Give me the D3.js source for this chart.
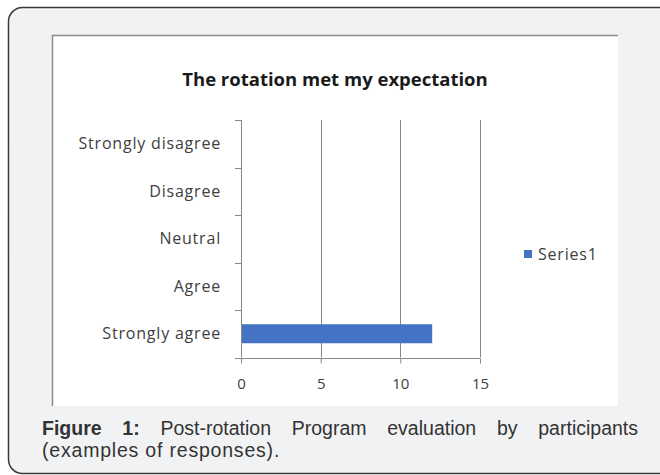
<!DOCTYPE html>
<html>
<head>
<meta charset="utf-8">
<script src="https://cdn.jsdelivr.net/npm/d3@7"></script>
<style>
  body { margin: 0; background: #fff; }
  #wrap { position: relative; width: 660px; height: 475px; overflow: hidden; background: #fff; }
  #caption {
    position: absolute; left: 42px; top: 417px; width: 596px;
    font-family: "Liberation Sans", Arial, sans-serif; font-size: 19.5px; line-height: 22px;
    letter-spacing: 0.8px; color: #333;
  }
  #caption .l1 { display: block; text-align: justify; text-align-last: justify; letter-spacing: 0; }
</style>
</head>
<body>
<div id="wrap">
  <svg width="660" height="475"></svg>
  <div id="caption"><span class="l1"><b>Figure 1:</b> Post-rotation Program evaluation by participants</span>(examples of responses).</div>
</div>
<script>
var svg = d3.select("svg"),
    width = +svg.attr("width"),
    height = +svg.attr("height");

var categories = ['Strongly disagree', 'Disagree', 'Neutral', 'Agree', 'Strongly agree'];
var values = [0, 0, 0, 0, 12];
var xTicks = [0, 5, 10, 15];
var seriesName = 'Series1';
var chartTitle = 'The rotation met my expectation';

var labelFont = '"Open Sans", Lato, sans-serif';

// outer rounded frame (right side runs off the page)
svg.append("rect")
    .attr("x", 8.5).attr("y", 7.5)
    .attr("width", 700).attr("height", 466)
    .attr("rx", 14)
    .attr("fill", "#f1f2f4")
    .attr("stroke", "#3a3a3a")
    .attr("stroke-width", 1.5);

// white chart panel
svg.append("rect")
    .attr("x", 52).attr("y", 35)
    .attr("width", 566).attr("height", 371)
    .attr("fill", "#fff");
svg.append("path")
    .attr("d", "M52.5,406V35.5H618")
    .attr("fill", "none")
    .attr("stroke", "#8c8c8c")
    .attr("stroke-width", 1.5);

svg.append("text")
    .attr("x", 335).attr("y", 86)
    .attr("text-anchor", "middle")
    .attr("font-family", labelFont)
    .attr("font-weight", "bold")
    .attr("font-size", 18.5)
    .attr("letter-spacing", 0)
    .attr("fill", "#1a1a1a")
    .text(chartTitle);

var plot = { left: 241, right: 480, top: 120, bottom: 357.5 };

var x = d3.scaleLinear().domain([0, 15]).range([plot.left, plot.right]);
var y = d3.scaleBand().domain(categories).range([plot.top, plot.bottom]).paddingInner(0.6).paddingOuter(0.3);

var axisColor = "#868686";

// gridlines
svg.append("g")
  .selectAll("line")
  .data(xTicks.filter(d => d > 0))
  .enter().append("line")
    .attr("x1", d => Math.round(x(d)) + 0.5)
    .attr("x2", d => Math.round(x(d)) + 0.5)
    .attr("y1", plot.top)
    .attr("y2", plot.bottom)
    .attr("stroke", axisColor);

// bars
svg.append("g")
  .selectAll("rect")
  .data(categories)
  .enter().append("rect")
    .attr("x", x(0))
    .attr("y", (d) => y(d))
    .attr("width", (d, i) => x(values[i]) - x(0))
    .attr("height", y.bandwidth())
    .attr("fill", "#4472c4");

// x axis
var xAxis = svg.append("g")
    .attr("transform", "translate(0," + (Math.round(plot.bottom) + 0.5) + ")")
    .call(d3.axisBottom(x).tickValues(xTicks).tickSize(5).tickPadding(15).tickFormat(d3.format("d")));
xAxis.select(".domain").attr("stroke", axisColor).attr("d", "M" + plot.left + ",0H" + plot.right);
xAxis.selectAll(".tick line").attr("stroke", axisColor);
xAxis.selectAll("text")
    .attr("font-family", labelFont)
    .attr("font-size", 15)
    .attr("fill", "#404040");

// y axis: ticks at band boundaries
var bounds = d3.range(categories.length + 1).map(i => plot.top + i * (plot.bottom - plot.top) / categories.length);
var yAxis = svg.append("g");
yAxis.append("line")
    .attr("x1", Math.round(plot.left) + 0.5).attr("x2", Math.round(plot.left) + 0.5)
    .attr("y1", plot.top).attr("y2", plot.bottom)
    .attr("stroke", axisColor);
yAxis.selectAll(".yt")
  .data(bounds)
  .enter().append("line")
    .attr("class", "yt")
    .attr("x1", plot.left - 6).attr("x2", plot.left)
    .attr("y1", d => Math.round(d) + 0.5).attr("y2", d => Math.round(d) + 0.5)
    .attr("stroke", axisColor);
yAxis.selectAll("text")
  .data(categories)
  .enter().append("text")
    .attr("x", 221)
    .attr("y", d => y(d) + y.bandwidth() / 2)
    .attr("dy", "0.35em")
    .attr("text-anchor", "end")
    .attr("font-family", labelFont)
    .attr("font-size", 16)
    .attr("letter-spacing", 0.8)
    .attr("fill", "#404040")
    .text(d => d);

// legend
var legend = svg.append("g").attr("transform", "translate(524,250)");
legend.append("rect").attr("width", 8).attr("height", 8).attr("fill", "#4472c4");
legend.append("text")
    .attr("x", 14).attr("y", 4)
    .attr("dy", "0.35em")
    .attr("font-family", labelFont)
    .attr("font-size", 16)
    .attr("letter-spacing", 0.8)
    .attr("fill", "#404040")
    .text(seriesName);
</script>
</body>
</html>
